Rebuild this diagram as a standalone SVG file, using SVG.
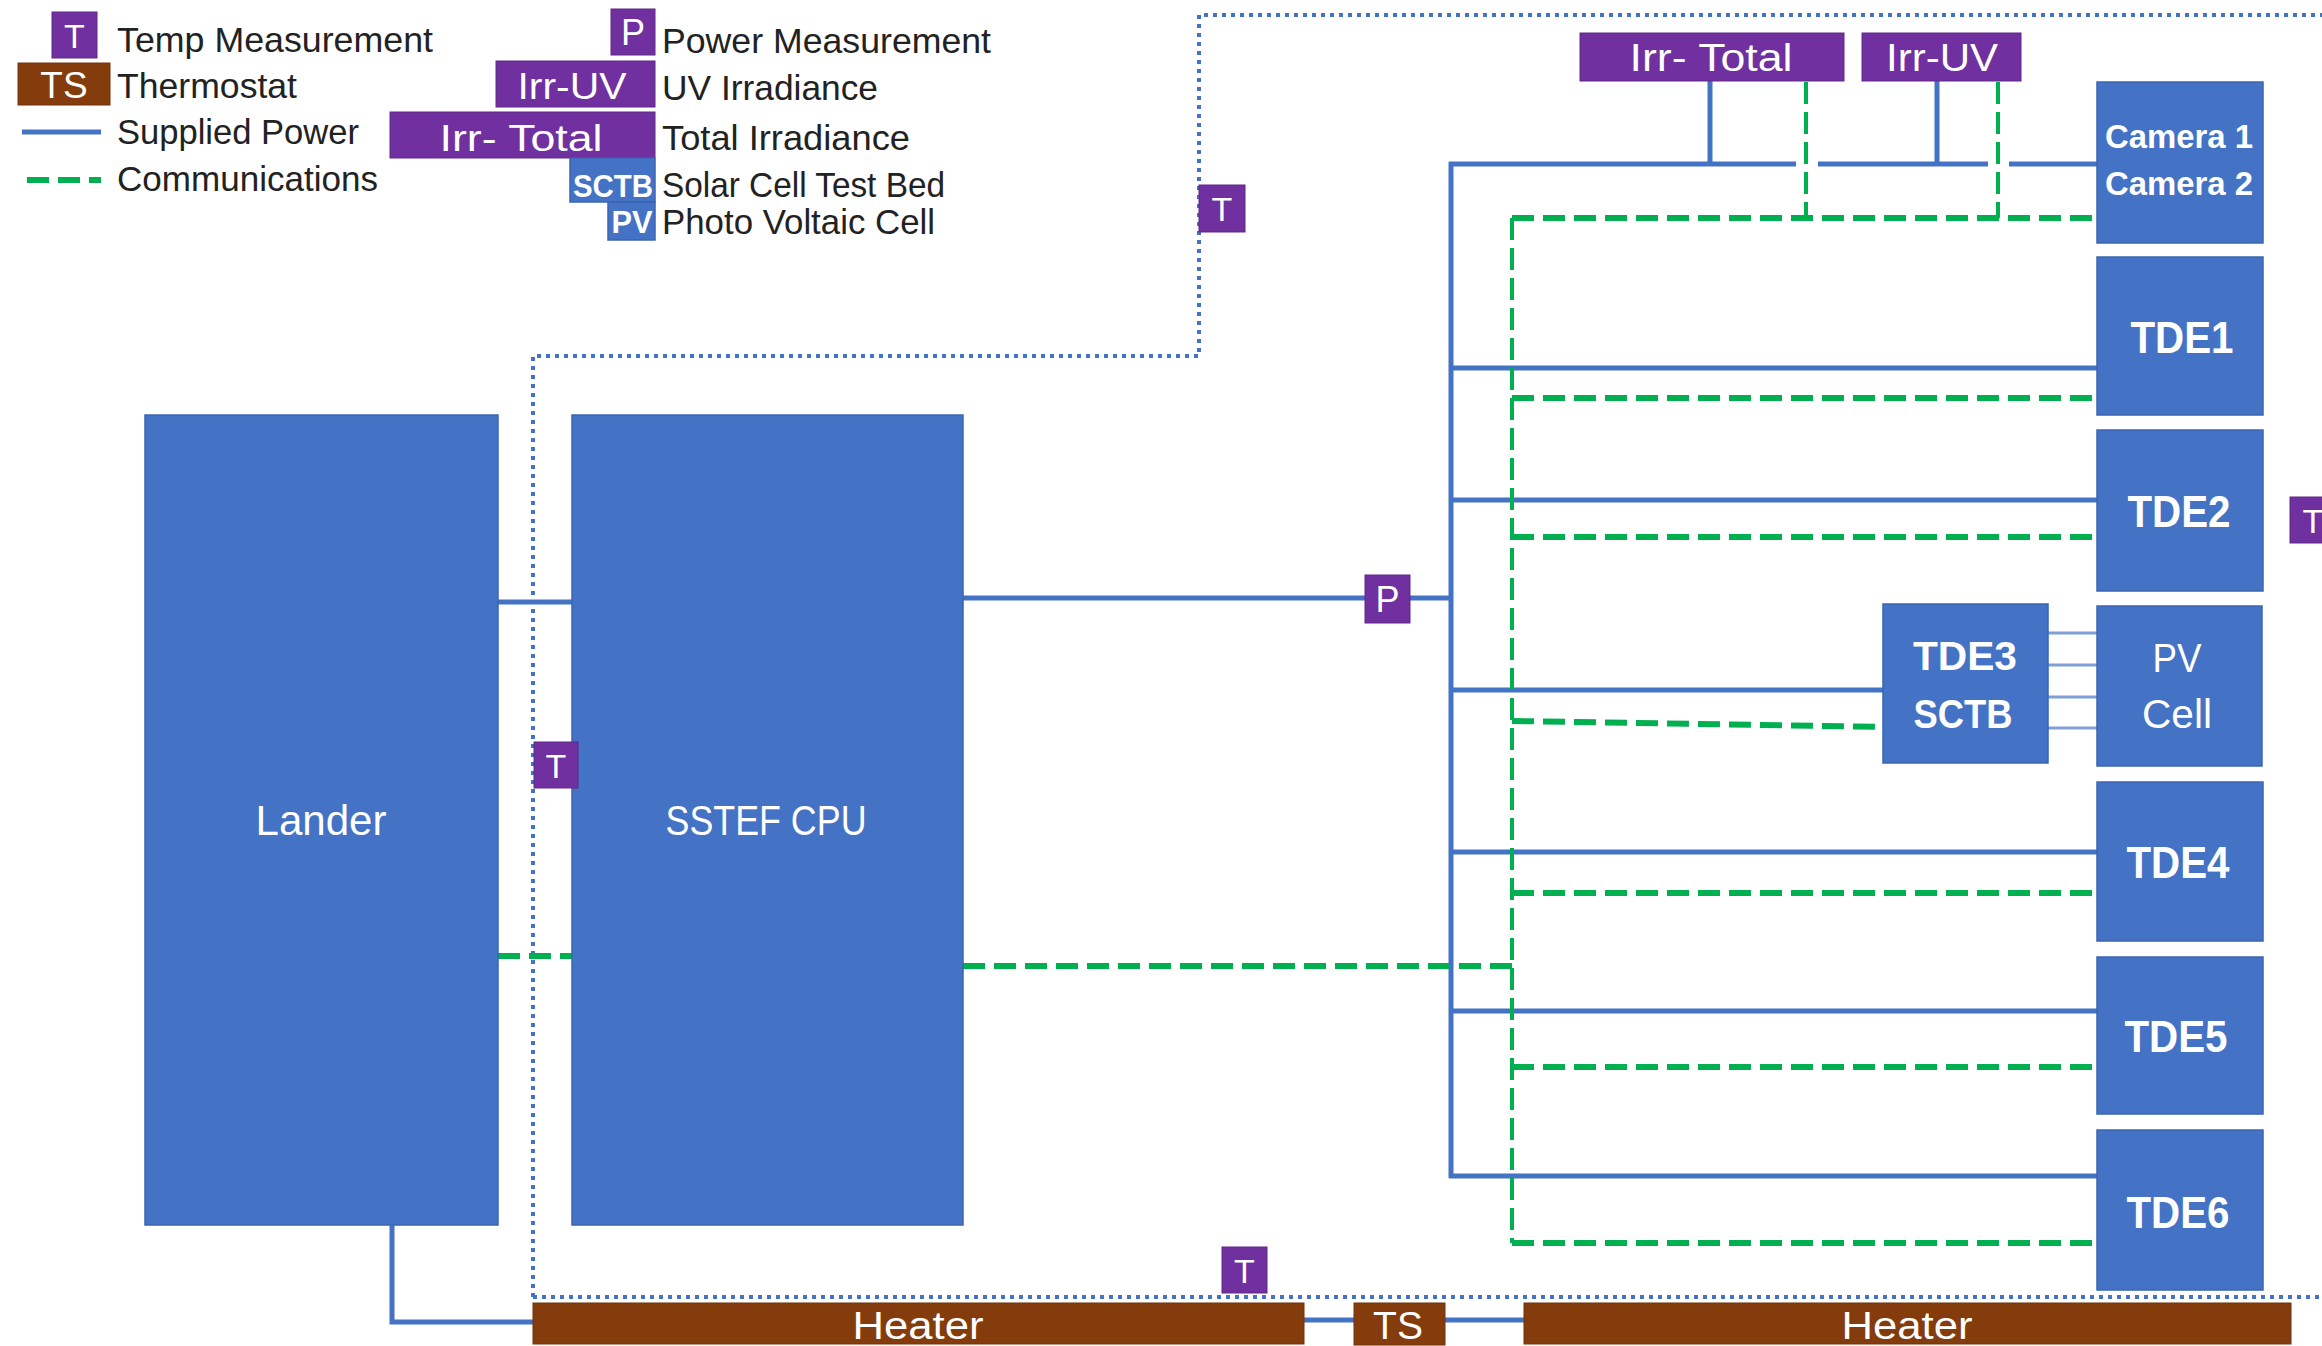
<svg xmlns="http://www.w3.org/2000/svg" width="2322" height="1346" viewBox="0 0 2322 1346">
<style>
text{font-family:"Liberation Sans",Arial,sans-serif}
.blue{fill:#4472C4;stroke:#3B65B3;stroke-width:1.5}
.purple{fill:#7030A0;stroke:#5E2888;stroke-width:1}
.brown{fill:#843C0C;stroke:#6E320A;stroke-width:1}
.wt{fill:#ffffff;text-anchor:middle}
.wb{fill:#ffffff;text-anchor:middle;font-weight:bold}
.lg{fill:#222222;font-size:35px}
.pw{stroke:#4472C4;stroke-width:5;fill:none}
.thin{stroke:#7F9FD6;stroke-width:3;fill:none}
.cm{stroke:#00B050;stroke-width:6;fill:none;stroke-dasharray:22 9}
.cmv{stroke:#00B050;stroke-width:4;fill:none;stroke-dasharray:22 8}
.dot{stroke:#4472C4;stroke-width:4;fill:none;stroke-dasharray:4 5}
</style>

<g id="legend">
  <rect class="purple" x="52" y="12" width="45" height="46"/>
  <text class="wt" x="74.5" y="48" font-size="34">T</text>
  <text class="lg" x="117" y="52" textLength="316" lengthAdjust="spacingAndGlyphs">Temp Measurement</text>
  <rect class="brown" x="18" y="63" width="92" height="42"/>
  <text class="wt" x="64" y="98" font-size="37">TS</text>
  <text class="lg" x="117" y="98" textLength="180" lengthAdjust="spacingAndGlyphs">Thermostat</text>
  <line class="pw" x1="22" y1="132" x2="101" y2="132"/>
  <text class="lg" x="117" y="144" textLength="242" lengthAdjust="spacingAndGlyphs">Supplied Power</text>
  <line class="cm" x1="27" y1="180" x2="101" y2="180"/>
  <text class="lg" x="117" y="191" textLength="261" lengthAdjust="spacingAndGlyphs">Communications</text>

  <rect class="purple" x="611" y="9" width="44" height="46"/>
  <text class="wt" x="633" y="45" font-size="36">P</text>
  <text class="lg" x="662" y="53" textLength="329" lengthAdjust="spacingAndGlyphs">Power Measurement</text>
  <rect class="purple" x="496" y="61" width="159" height="46"/>
  <text class="wt" x="572" y="99" font-size="37" textLength="109" lengthAdjust="spacingAndGlyphs">Irr-UV</text>
  <text class="lg" x="662" y="100" textLength="216" lengthAdjust="spacingAndGlyphs">UV Irradiance</text>
  <rect class="purple" x="390" y="112" width="265" height="46"/>
  <text class="wt" x="521" y="151" font-size="37" textLength="163" lengthAdjust="spacingAndGlyphs">Irr- Total</text>
  <text class="lg" x="662" y="150" textLength="248" lengthAdjust="spacingAndGlyphs">Total Irradiance</text>
  <rect class="blue" x="570" y="158" width="85" height="44"/>
  <text class="wb" x="613" y="197" font-size="32" textLength="80" lengthAdjust="spacingAndGlyphs">SCTB</text>
  <text class="lg" x="662" y="197" textLength="283" lengthAdjust="spacingAndGlyphs">Solar Cell Test Bed</text>
  <rect class="blue" x="608" y="202" width="47" height="38"/>
  <text class="wb" x="632" y="233" font-size="32" textLength="41" lengthAdjust="spacingAndGlyphs">PV</text>
  <text class="lg" x="662" y="234" textLength="273" lengthAdjust="spacingAndGlyphs">Photo Voltaic Cell</text>
</g>

<g id="connectors">
  <!-- enclosure dotted boundary -->
  <path class="dot" d="M533,1297 V356 H1199 V15 H2322"/>
  <line class="dot" x1="533" y1="1297" x2="2322" y2="1297"/>
  <!-- supplied power -->
  <line class="pw" x1="498" y1="602" x2="572" y2="602"/>
  <line class="pw" x1="963" y1="598" x2="1365" y2="598"/>
  <line class="pw" x1="1410" y1="598" x2="1451" y2="598"/>
  <line class="pw" x1="1451" y1="162" x2="1451" y2="1178"/>
  <line class="pw" x1="1449" y1="164" x2="1796" y2="164"/>
  <line class="pw" x1="1818" y1="164" x2="1988" y2="164"/>
  <line class="pw" x1="2009" y1="164" x2="2097" y2="164"/>
  <line class="pw" x1="1710" y1="81" x2="1710" y2="164"/>
  <line class="pw" x1="1937" y1="81" x2="1937" y2="164"/>
  <line class="pw" x1="1451" y1="368" x2="2097" y2="368"/>
  <line class="pw" x1="1451" y1="500" x2="2097" y2="500"/>
  <line class="pw" x1="1451" y1="690" x2="1883" y2="690"/>
  <line class="pw" x1="1451" y1="852" x2="2097" y2="852"/>
  <line class="pw" x1="1451" y1="1011" x2="2097" y2="1011"/>
  <line class="pw" x1="1449" y1="1176" x2="2097" y2="1176"/>
  <line class="thin" x1="2048" y1="633" x2="2097" y2="633"/>
  <line class="thin" x1="2048" y1="665" x2="2097" y2="665"/>
  <line class="thin" x1="2048" y1="697" x2="2097" y2="697"/>
  <line class="thin" x1="2048" y1="728" x2="2097" y2="728"/>
  <path class="pw" d="M392,1225 V1322 H533"/>
  <line class="pw" x1="1304" y1="1320" x2="1354" y2="1320"/>
  <line class="pw" x1="1445" y1="1320" x2="1524" y2="1320"/>
  <!-- communications -->
  <line class="cm" x1="498" y1="956" x2="572" y2="956"/>
  <line class="cm" x1="963" y1="966" x2="1512" y2="966"/>
  <line class="cmv" x1="1512" y1="218" x2="1512" y2="1243"/>
  <line class="cm" x1="1512" y1="218" x2="2097" y2="218"/>
  <line class="cmv" x1="1806" y1="82" x2="1806" y2="218"/>
  <line class="cmv" x1="1998" y1="82" x2="1998" y2="218"/>
  <line class="cm" x1="1512" y1="398" x2="2097" y2="398"/>
  <line class="cm" x1="1512" y1="537" x2="2097" y2="537"/>
  <line class="cm" x1="1512" y1="721" x2="1883" y2="727"/>
  <line class="cm" x1="1512" y1="893" x2="2097" y2="893"/>
  <line class="cm" x1="1512" y1="1067" x2="2097" y2="1067"/>
  <line class="cm" x1="1512" y1="1243" x2="2097" y2="1243"/>
</g>

<g id="lander">
  <rect class="blue" x="145" y="415" width="353" height="810"/>
  <text class="wt" x="321" y="835" font-size="42" textLength="131" lengthAdjust="spacingAndGlyphs">Lander</text>
</g>
<g id="sstef-cpu">
  <rect class="blue" x="572" y="415" width="391" height="810"/>
  <text class="wt" x="766" y="835" font-size="42" textLength="201" lengthAdjust="spacingAndGlyphs">SSTEF CPU</text>
</g>
<g id="irr-total">
  <rect class="purple" x="1580" y="33" width="264" height="48"/>
  <text class="wt" x="1711" y="71" font-size="38" textLength="163" lengthAdjust="spacingAndGlyphs">Irr- Total</text>
</g>
<g id="irr-uv">
  <rect class="purple" x="1862" y="33" width="159" height="48"/>
  <text class="wt" x="1942" y="71" font-size="38" textLength="112" lengthAdjust="spacingAndGlyphs">Irr-UV</text>
</g>
<g id="cameras">
  <rect class="blue" x="2097" y="82" width="166" height="161"/>
  <text class="wb" x="2179" y="148" font-size="33" textLength="148" lengthAdjust="spacingAndGlyphs">Camera 1</text>
  <text class="wb" x="2179" y="195" font-size="33" textLength="148" lengthAdjust="spacingAndGlyphs">Camera 2</text>
</g>
<g id="tde1">
  <rect class="blue" x="2097" y="257" width="166" height="158"/>
  <text class="wb" x="2182" y="353" font-size="44" textLength="103" lengthAdjust="spacingAndGlyphs">TDE1</text>
</g>
<g id="tde2">
  <rect class="blue" x="2097" y="430" width="166" height="161"/>
  <text class="wb" x="2179" y="527" font-size="44" textLength="103" lengthAdjust="spacingAndGlyphs">TDE2</text>
</g>
<g id="tde3-sctb">
  <rect class="blue" x="1883" y="604" width="165" height="159"/>
  <text class="wb" x="1965" y="670" font-size="40" textLength="104" lengthAdjust="spacingAndGlyphs">TDE3</text>
  <text class="wb" x="1963" y="728" font-size="40" textLength="99" lengthAdjust="spacingAndGlyphs">SCTB</text>
</g>
<g id="pv-cell">
  <rect class="blue" x="2097" y="606" width="165" height="160"/>
  <text class="wt" x="2177" y="672" font-size="40" textLength="49" lengthAdjust="spacingAndGlyphs">PV</text>
  <text class="wt" x="2177" y="728" font-size="40" textLength="70" lengthAdjust="spacingAndGlyphs">Cell</text>
</g>
<g id="tde4">
  <rect class="blue" x="2097" y="782" width="166" height="159"/>
  <text class="wb" x="2178" y="878" font-size="44" textLength="103" lengthAdjust="spacingAndGlyphs">TDE4</text>
</g>
<g id="tde5">
  <rect class="blue" x="2097" y="957" width="166" height="157"/>
  <text class="wb" x="2176" y="1052" font-size="44" textLength="103" lengthAdjust="spacingAndGlyphs">TDE5</text>
</g>
<g id="tde6">
  <rect class="blue" x="2097" y="1130" width="166" height="160"/>
  <text class="wb" x="2178" y="1228" font-size="44" textLength="103" lengthAdjust="spacingAndGlyphs">TDE6</text>
</g>
<g id="power-meter">
  <rect class="purple" x="1365" y="575" width="45" height="48"/>
  <text class="wt" x="1387.5" y="612" font-size="36">P</text>
</g>
<g id="temp-top">
  <rect class="purple" x="1199" y="185" width="46" height="47"/>
  <text class="wt" x="1222" y="221" font-size="34">T</text>
</g>
<g id="temp-mid">
  <rect class="purple" x="534" y="742" width="44" height="46"/>
  <text class="wt" x="556" y="778" font-size="34">T</text>
</g>
<g id="temp-bottom">
  <rect class="purple" x="1222" y="1247" width="45" height="46"/>
  <text class="wt" x="1244.5" y="1283" font-size="34">T</text>
</g>
<g id="temp-right">
  <rect class="purple" x="2290" y="497" width="46" height="46"/>
  <text class="wt" x="2313" y="533" font-size="34">T</text>
</g>
<g id="heater-1">
  <rect class="brown" x="533" y="1303" width="771" height="41"/>
  <text class="wt" x="918" y="1339" font-size="38" textLength="131" lengthAdjust="spacingAndGlyphs">Heater</text>
</g>
<g id="thermostat">
  <rect class="brown" x="1354" y="1303" width="91" height="42"/>
  <text class="wt" x="1398" y="1339" font-size="39">TS</text>
</g>
<g id="heater-2">
  <rect class="brown" x="1524" y="1303" width="767" height="41"/>
  <text class="wt" x="1907" y="1339" font-size="38" textLength="131" lengthAdjust="spacingAndGlyphs">Heater</text>
</g>
</svg>
